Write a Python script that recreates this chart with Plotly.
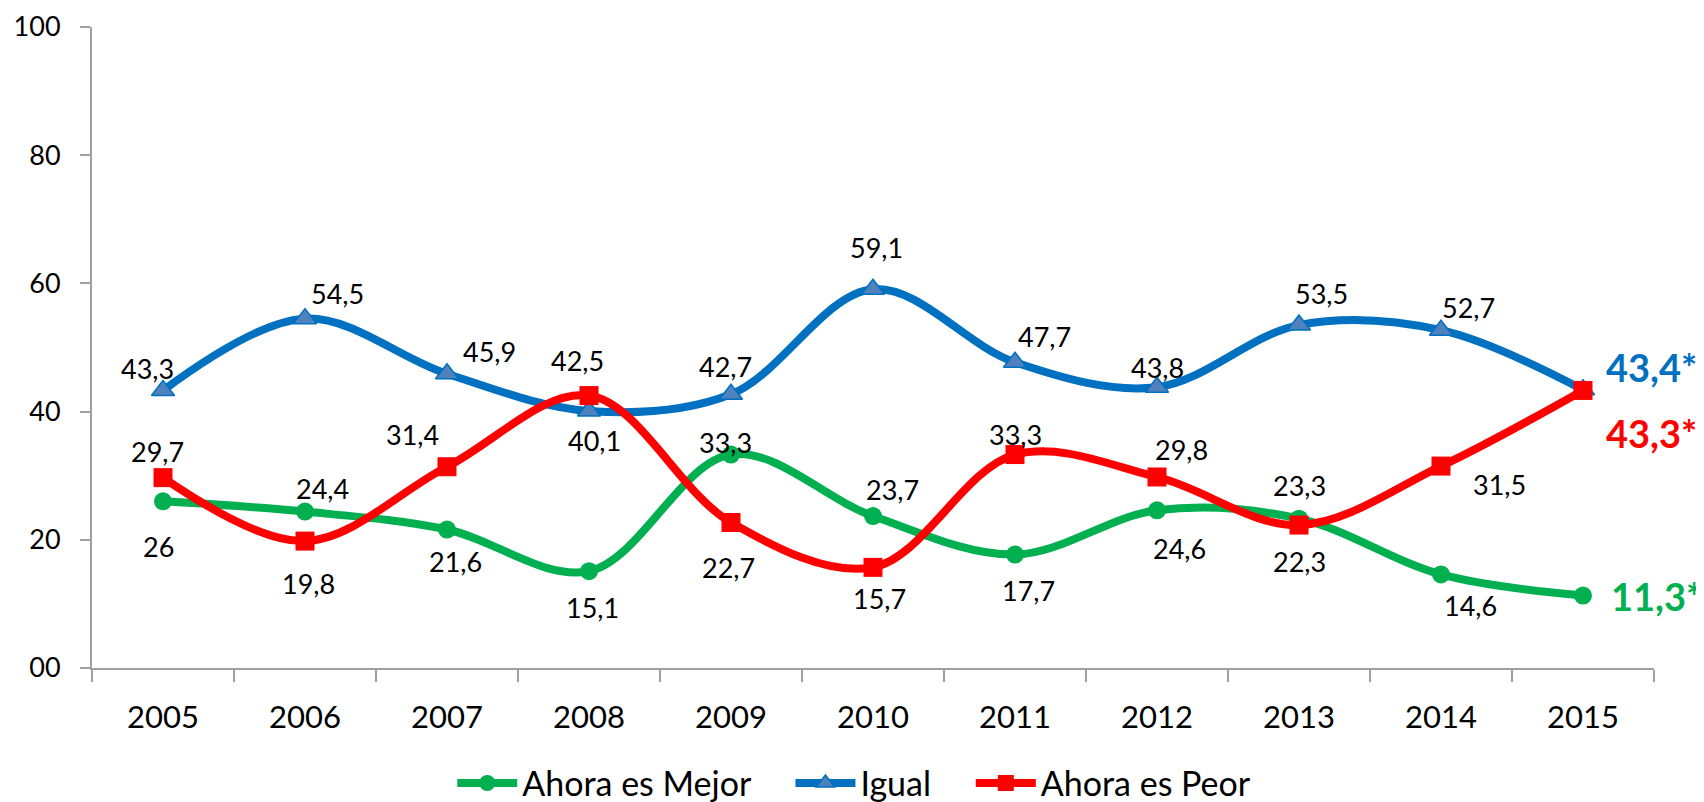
import plotly.graph_objects as go

# ---- data ----
years = ["2005", "2006", "2007", "2008", "2009", "2010", "2011", "2012", "2013", "2014", "2015"]
mejor = [26.0, 24.4, 21.6, 15.1, 33.3, 23.7, 17.7, 24.6, 23.3, 14.6, 11.3]
igual = [43.3, 54.5, 45.9, 40.1, 42.7, 59.1, 47.7, 43.8, 53.5, 52.7, 43.4]
peor = [29.7, 19.8, 31.4, 42.5, 22.7, 15.7, 33.3, 29.8, 22.3, 31.5, 43.3]
y_ticks = [0, 20, 40, 60, 80, 100]
y_ticktext = ["00", "20", "40", "60", "80", "100"]
series_names = ["Ahora es Mejor", "Igual", "Ahora es Peor"]

# ---- label offsets (pixels, dx right, dy down) ----
off_mejor = [(-5, 45), (17, -23), (8, 32), (3, 36), (-6, -12), (19, -27),
             (13, 36), (22, 38), (0, -33), (29, 31), (73, 0)]
off_igual = [(-16, -22), (32, -25), (42, -22), (5, 30), (-6, -28), (3, -42),
             (29, -26), (0, -20), (22, -32), (27, -23), (68, -23)]
off_peor = [(-6, -26), (3, 42), (-35, -32), (-12, -35), (-3, 45), (6, 31),
            (0, -20), (24, -27), (0, 36), (58, 18), (68, 43)]

GREEN = "#00B050"
BLUE = "#0070C0"
RED = "#FF0000"
FONT = "Lato"
AXIS = "#A0A0A0"
GAP = "\u00a0" * 4  # extra spacing after a legend entry


def fmt(v):
    return f"{v:g}".replace(".", ",")


fig = go.Figure()
specs = [
    (series_names[0], mejor, GREEN, dict(symbol="circle", size=18, color=GREEN), off_mejor),
    (series_names[1], igual, BLUE, dict(symbol="triangle-up", size=20, color="#4F81BD",
                                       line=dict(color=BLUE, width=1.5)), off_igual),
    (series_names[2], peor, RED, dict(symbol="square", size=19, color=RED), off_peor),
]

annotations = []
for k, (name, vals, col, mk, offs) in enumerate(specs):
    fig.add_trace(go.Scatter(
        x=years, y=vals, name=name + (GAP if k < len(specs) - 1 else ""),
        mode="lines+markers",
        line=dict(color=col, width=8, shape="spline", smoothing=1.0),
        marker=mk, hoverinfo="x+y",
    ))
    n = len(vals)
    for i, v in enumerate(vals):
        dx, dy = offs[i]
        last = i == n - 1
        annotations.append(dict(
            x=i, y=v, xref="x", yref="y",
            text=(f"<b>{fmt(v)}*</b>" if last else fmt(v)),
            showarrow=False, xshift=dx, yshift=-dy,
            font=dict(family=FONT, size=38 if last else 27,
                      color=col if last else "#000000"),
            xanchor="center", yanchor="middle",
        ))

# the page body has an 8px margin, so the figure is 8px smaller and margins shifted
fig.update_layout(
    width=1696, height=794,
    margin=dict(l=84, r=50, t=19, b=134, autoexpand=False),
    paper_bgcolor="white", plot_bgcolor="white",
    font=dict(family=FONT, size=30, color="#000000"),
    showlegend=True,
    legend=dict(orientation="h", x=0.488, xanchor="center", y=-0.18, yanchor="middle",
                font=dict(family=FONT, size=34, color="#000000"),
                itemwidth=60, tracegroupgap=0, bgcolor="rgba(0,0,0,0)"),
    annotations=annotations,
)
fig.update_xaxes(
    type="category", range=[-0.5, 10.5], showgrid=False, zeroline=False,
    showline=True, linecolor=AXIS, linewidth=2,
    ticks="outside", tickson="boundaries", ticklen=12, tickcolor=AXIS, tickwidth=2,
    tickfont=dict(family=FONT, size=31, color="#000000"), ticklabelstandoff=21,
)
fig.update_yaxes(
    range=[0, 100], tickvals=y_ticks, ticktext=y_ticktext, showgrid=False, zeroline=False,
    showline=True, linecolor=AXIS, linewidth=2,
    ticks="outside", ticklen=10, tickcolor=AXIS, tickwidth=2,
    tickfont=dict(family=FONT, size=27, color="#000000"), ticklabelstandoff=14,
)

fig.write_html("out.html")
